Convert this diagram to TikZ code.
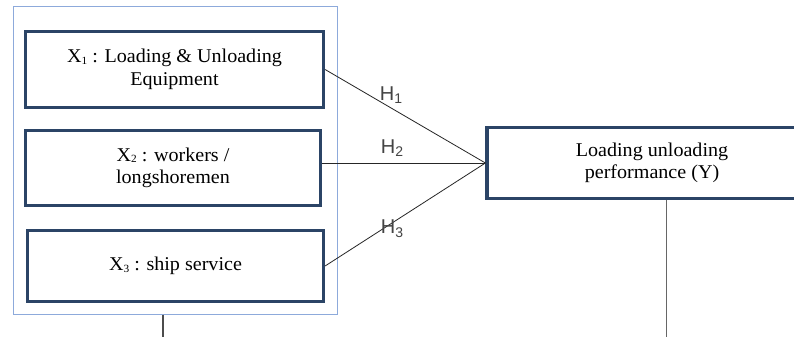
\documentclass[tikz,border=0pt]{standalone}
\usepackage{fontspec}
\setmainfont{Liberation Serif}[FakeStretch=1.03]
\newfontfamily\hfont{Liberation Sans}
\definecolor{navy}{HTML}{2B4466}
\definecolor{lblue}{HTML}{8DAADB}
\definecolor{hgray}{HTML}{444444}
\newcommand{\lowsub}[1]{\raisebox{-0.15ex}{\fontsize{11}{11}\selectfont #1}}
\begin{document}
\begin{tikzpicture}[x=1pt,y=-1pt,
  vbox/.style={draw=navy,line width=3.2pt,fill=white,align=center,font=\fontsize{19.5}{22.5}\selectfont,inner sep=0pt},
  link/.style={draw=black!85,line width=0.8pt},
  hlab/.style={font=\hfont\fontsize{20}{22}\selectfont,text=hgray,inner sep=0pt}]
\useasboundingbox (0,0) rectangle (794,337);
\clip (0,0) rectangle (794,337);
\fill[white] (0,0) rectangle (794,337);
\node[draw=lblue,line width=1pt,minimum width=324pt,minimum height=307pt,inner sep=0pt] (outer) at (175,160.5) {};
\node[vbox,minimum width=298pt,minimum height=76pt] (x1) at (174.5,69.5) {X\lowsub{1} : Loading \& Unloading\\Equipment};
\node[vbox,minimum width=295pt,minimum height=75pt] (x2) at (173,168) {X\lowsub{2} : workers /\\longshoremen};
\node[vbox,minimum width=296pt,minimum height=71pt] (x3) at (175.5,266) {X\lowsub{3} : ship service};
\node[vbox,minimum width=330pt,minimum height=71pt] (y) at (652,163) {Loading unloading\\performance (Y)};
\coordinate (yin) at (y.west);
\draw[link] (x1.east) -- (yin);
\draw[link] (x2.east |- yin) -- (yin);
\draw[link] (x3.east) -- (yin);
\node[hlab] (h1) at (391,95) {H\raisebox{-0.35ex}{\fontsize{14}{14}\selectfont 1}};
\node[hlab] (h2) at (392,148) {H\raisebox{-0.35ex}{\fontsize{14}{14}\selectfont 2}};
\node[hlab] (h3) at (392,229) {H\raisebox{-0.35ex}{\fontsize{14}{14}\selectfont 3}};
\coordinate (ob) at (163,337);
\coordinate (yb) at (666,337);
\draw[draw=black!70,line width=1.2pt] (outer.south -| ob) -- (ob);
\draw[draw=black!60,line width=1pt] (y.south -| yb) -- (yb);
\end{tikzpicture}
\end{document}
